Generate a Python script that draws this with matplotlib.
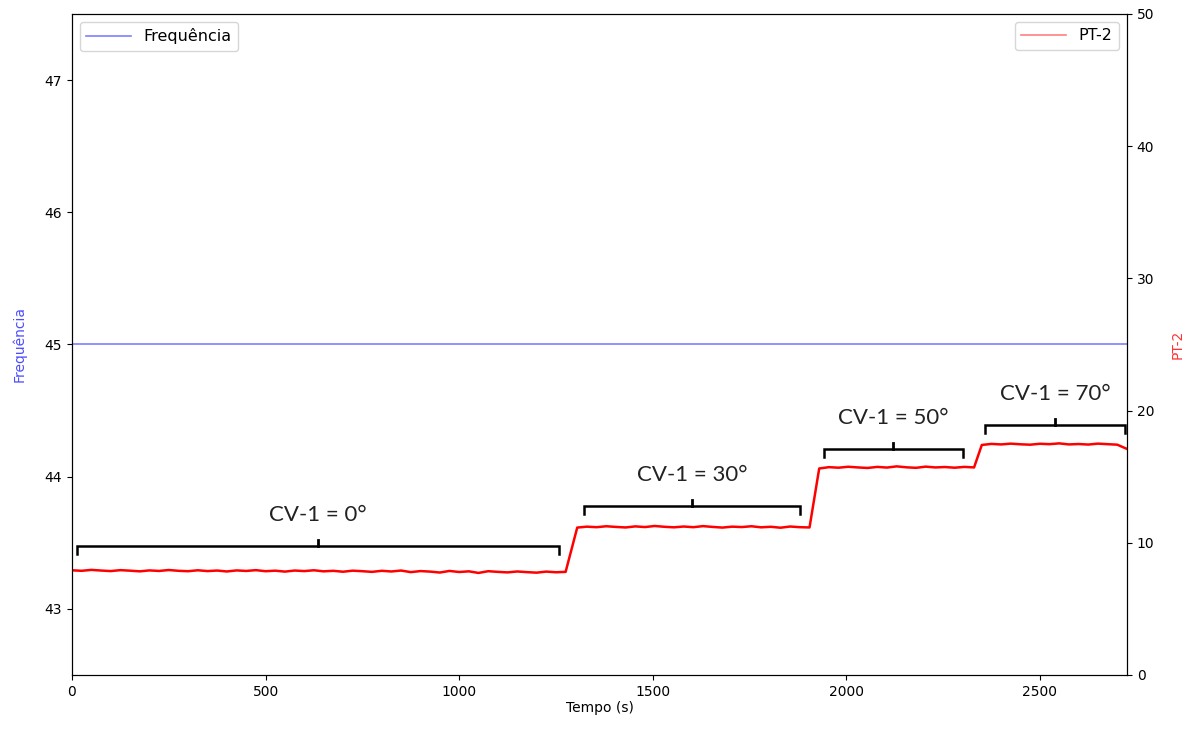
import numpy as np
import matplotlib
matplotlib.use("Agg")
from matplotlib import pyplot as plt
from matplotlib.lines import Line2D

# Frequência (left axis), constant over the test
freq_time = [0, 2725]
freq_value = [45.0, 45.0]

# PT-2 (right axis) per plateau
seg1_time = np.arange(0, 1300, 25)
seg1_pt2 = [7.92, 7.88, 7.95, 7.90, 7.86, 7.93, 7.89, 7.84, 7.91, 7.87,
            7.94, 7.88, 7.85, 7.92, 7.86, 7.90, 7.83, 7.91, 7.87, 7.93,
            7.85, 7.89, 7.82, 7.90, 7.86, 7.92, 7.84, 7.88, 7.81, 7.89,
            7.85, 7.80, 7.88, 7.83, 7.90, 7.78, 7.86, 7.82, 7.75, 7.87,
            7.79, 7.84, 7.72, 7.85, 7.80, 7.76, 7.83, 7.78, 7.74, 7.82,
            7.77, 7.80]
seg2_time = np.arange(1305, 1915, 25)
seg2_pt2 = [11.15, 11.22, 11.18, 11.25, 11.20, 11.16, 11.24, 11.19, 11.27, 11.21,
            11.17, 11.23, 11.18, 11.26, 11.20, 11.15, 11.22, 11.19, 11.25, 11.17,
            11.21, 11.14, 11.23, 11.18, 11.16]
seg3_time = np.arange(1930, 2335, 25)
seg3_pt2 = [15.62, 15.72, 15.68, 15.75, 15.70, 15.66, 15.74, 15.69, 15.78, 15.71,
            15.67, 15.76, 15.70, 15.73, 15.68, 15.74, 15.70]
seg4_time = np.arange(2350, 2725, 25)
seg4_pt2 = [17.40, 17.48, 17.44, 17.50, 17.45, 17.42, 17.49, 17.46, 17.52, 17.44,
            17.47, 17.43, 17.50, 17.46, 17.42]
end_time = [2725]
end_pt2 = [17.10]

pt2_time = np.concatenate([seg1_time, seg2_time, seg3_time, seg4_time, end_time])
pt2_value = np.concatenate([seg1_pt2, seg2_pt2, seg3_pt2, seg4_pt2, end_pt2])

# brackets marking each valve position (in PT-2 units)
bracket_labels = ["CV-1 = 0°", "CV-1 = 30°", "CV-1 = 50°", "CV-1 = 70°"]
bracket_start = [13, 1322, 1942, 2358]
bracket_end = [1258, 1880, 2301, 2720]
bracket_level = [9.75, 12.8, 17.1, 18.9]

fig, ax = plt.subplots(figsize=(11.96, 7.29), dpi=100)
fig.subplots_adjust(left=0.0602, right=0.9423, top=0.9808, bottom=0.0741)

ax.plot(freq_time, freq_value, color="blue", alpha=0.5, lw=1.2, label="Frequência")
ax.set_ylim(42.5, 47.5)
ax.set_yticks([43, 44, 45, 46, 47])
ax.set_xlim(0, 2725)
ax.set_xlabel("Tempo (s)", labelpad=2)
ax.set_ylabel("Frequência", color="blue", alpha=0.7, labelpad=13)
ax.legend(loc="upper left", fontsize=11.5, handlelength=2.8)

ax2 = ax.twinx()
ax2.plot(pt2_time, pt2_value, color="red", lw=1.8)
ax2.set_ylim(0, 50)
ax2.set_ylabel("PT-2", color="red", alpha=0.8, labelpad=12)
ax2.legend(handles=[Line2D([], [], color="red", alpha=0.5, lw=1.2)], labels=["PT-2"],
           loc="upper right", fontsize=11.5, handlelength=2.8)

for lab, x0, x1, y in zip(bracket_labels, bracket_start, bracket_end, bracket_level):
    xm = (x0 + x1) / 2
    ax2.plot([x0, x0, x1, x1], [y - 0.6, y, y, y - 0.6], color="black", lw=1.8,
             solid_joinstyle="miter")
    ax2.plot([xm, xm], [y, y + 0.45], color="black", lw=2)
    ax2.text(xm, y + 1.6, lab, ha="center", va="bottom", fontsize=16,
             family=["Lato", "DejaVu Sans"], color="#222222")

fig.savefig("out.png", dpi=100)
